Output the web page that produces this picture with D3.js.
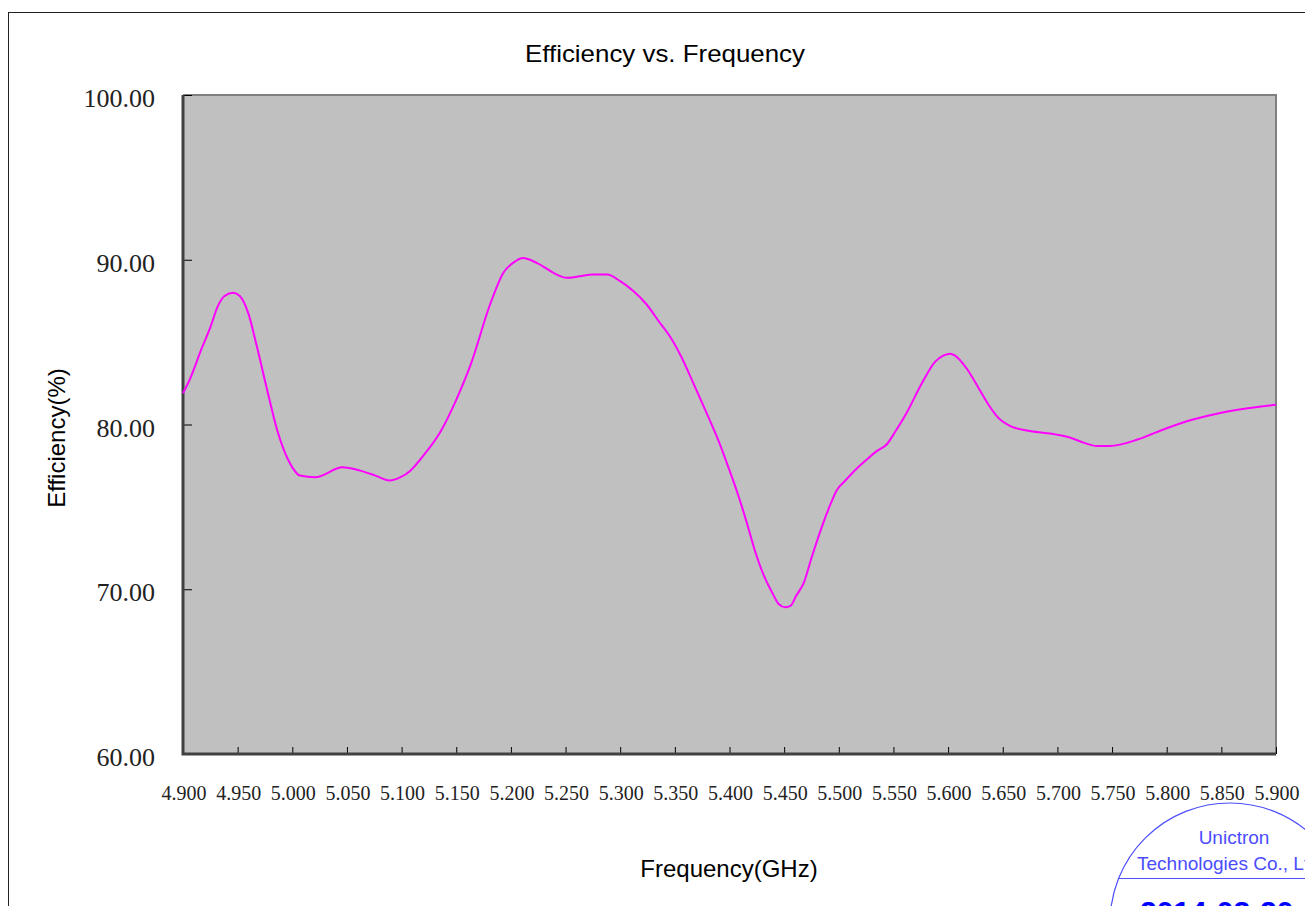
<!DOCTYPE html>
<html>
<head>
<meta charset="utf-8">
<script src="https://cdn.jsdelivr.net/npm/d3@7"></script>
<style>
  html, body { margin: 0; padding: 0; background: #fff; overflow: hidden; }
  svg { display: block; }
</style>
</head>
<body>
<svg id="chart" width="1305" height="906"></svg>
<script>
// Efficiency vs. Frequency
const freqs = [
  4.900, 4.906, 4.917, 4.925, 4.932, 4.938, 4.946, 4.952, 4.960, 4.967,
  4.977, 4.986, 4.992, 5.000, 5.007, 5.021, 5.046, 5.062, 5.076, 5.089,
  5.099, 5.108, 5.121, 5.135, 5.150, 5.163, 5.181, 5.193, 5.204, 5.211,
  5.224, 5.242, 5.251, 5.263, 5.275, 5.288, 5.300, 5.312, 5.324, 5.336,
  5.346, 5.356, 5.367, 5.379, 5.390, 5.399, 5.407, 5.416, 5.423, 5.431,
  5.439, 5.445, 5.451, 5.456, 5.461, 5.468, 5.475, 5.484, 5.492, 5.498,
  5.506, 5.516, 5.526, 5.535, 5.544, 5.551, 5.562, 5.576, 5.588, 5.596,
  5.602, 5.606, 5.617, 5.628, 5.637, 5.646, 5.657, 5.675, 5.698, 5.712,
  5.724, 5.736, 5.748, 5.774, 5.797, 5.824, 5.849, 5.876, 5.900
];
const efficiency = [
  81.9, 82.7, 84.6, 85.9, 87.2, 87.8, 88.0, 87.8, 86.7, 84.9,
  82.1, 79.7, 78.5, 77.4, 76.9, 76.8, 77.4, 77.2, 76.9, 76.6,
  76.8, 77.2, 78.2, 79.5, 81.5, 83.6, 87.3, 89.2, 89.9, 90.1,
  89.8, 89.1, 88.9, 89.0, 89.1, 89.1, 88.7, 88.1, 87.3, 86.2,
  85.3, 84.1, 82.5, 80.7, 79.0, 77.4, 75.9, 74.0, 72.4, 70.9,
  69.8, 69.1, 68.9, 69.0, 69.6, 70.4, 71.9, 73.7, 75.1, 76.0,
  76.6, 77.3, 77.9, 78.4, 78.8, 79.5, 80.7, 82.5, 83.8, 84.2,
  84.3, 84.2, 83.4, 82.2, 81.2, 80.4, 79.9, 79.6, 79.4, 79.2,
  78.9, 78.7, 78.7, 79.1, 79.7, 80.3, 80.7, 81.0, 81.2
];
const xTicks = [
  4.900, 4.950, 5.000, 5.050, 5.100, 5.150, 5.200, 5.250, 5.300, 5.350, 5.400,
  5.450, 5.500, 5.550, 5.600, 5.650, 5.700, 5.750, 5.800, 5.850, 5.900
];
const yTicks = [60, 70, 80, 90, 100];

const svg = d3.select('#chart');
const plot = { left: 183, top: 95, right: 1276, bottom: 754 };

const x = d3.scaleLinear().domain([4.9, 5.9]).range([plot.left, plot.right]);
const y = d3.scaleLinear().domain([60, 100]).range([plot.bottom, plot.top]);

// outer frame (runs off the page on the right/bottom)
svg.append('rect')
  .attr('x', 8.5).attr('y', 12.5).attr('width', 1400).attr('height', 1000)
  .attr('fill', 'none').attr('stroke', '#222').attr('stroke-width', 1);

// plot background
svg.append('rect')
  .attr('x', plot.left).attr('y', plot.top)
  .attr('width', plot.right - plot.left).attr('height', plot.bottom - plot.top)
  .attr('fill', '#c0c0c0');

// top / right edges gray
svg.append('path')
  .attr('d', `M${plot.left},${plot.top}H${plot.right}V${plot.bottom}`)
  .attr('fill', 'none').attr('stroke', '#808080').attr('stroke-width', 2);

// y axis (ticks inward)
const yAxis = svg.append('g')
  .attr('transform', `translate(${plot.left},0)`)
  .call(d3.axisRight(y).tickValues(yTicks).tickSize(9).tickFormat(''));
yAxis.select('.domain').remove();
yAxis.selectAll('line').attr('stroke', '#000');

// x axis (ticks inward / upward)
const xAxis = svg.append('g')
  .attr('transform', `translate(0,${plot.bottom})`)
  .call(d3.axisTop(x).tickValues(xTicks).tickSize(7).tickFormat(''));
xAxis.select('.domain').remove();
xAxis.selectAll('line').attr('stroke', '#000');

// left & bottom edges dark
svg.append('path')
  .attr('d', `M${plot.left},${plot.top}V${plot.bottom}H${plot.right}`)
  .attr('fill', 'none').attr('stroke', '#404040').attr('stroke-width', 3);

// tick labels
svg.append('g').selectAll('text').data(yTicks).join('text')
  .attr('x', 155).attr('y', d => y(d) + 12)
  .attr('text-anchor', 'end')
  .attr('font-family', '"Liberation Serif", "DejaVu Serif", serif')
  .attr('font-size', 26).attr('fill', '#222')
  .text(d => d.toFixed(2));

svg.append('g').selectAll('text').data(xTicks).join('text')
  .attr('x', d => x(d) + 1).attr('y', 800)
  .attr('text-anchor', 'middle')
  .attr('font-family', '"Liberation Serif", "DejaVu Serif", serif')
  .attr('font-size', 20).attr('fill', '#222')
  .text(d => d.toFixed(3));

// titles
svg.append('text')
  .attr('x', 665).attr('y', 62).attr('text-anchor', 'middle')
  .attr('font-family', '"Liberation Sans", Arial, sans-serif')
  .attr('font-size', 24).attr('textLength', 280).attr('lengthAdjust', 'spacingAndGlyphs')
  .attr('fill', '#000').text('Efficiency vs. Frequency');

svg.append('text')
  .attr('x', 729).attr('y', 877).attr('text-anchor', 'middle')
  .attr('font-family', '"Liberation Sans", Arial, sans-serif')
  .attr('font-size', 24).attr('fill', '#000').text('Frequency(GHz)');

svg.append('text')
  .attr('transform', 'translate(65,438) rotate(-90)')
  .attr('text-anchor', 'middle')
  .attr('font-family', '"Liberation Sans", Arial, sans-serif')
  .attr('font-size', 24).attr('fill', '#000').text('Efficiency(%)');

// data line
const line = d3.line()
  .x((d, i) => x(freqs[i]))
  .y(d => y(d))
  .curve(d3.curveMonotoneX);

svg.append('path')
  .datum(efficiency)
  .attr('d', line)
  .attr('fill', 'none')
  .attr('stroke', '#ff00ff')
  .attr('stroke-width', 2);

// company stamp in the corner (cut by the page edge, as in the original)
const stamp = svg.append('g');
stamp.append('circle')
  .attr('cx', 1230).attr('cy', 923).attr('r', 120)
  .attr('fill', 'none').attr('stroke', '#4c4cff').attr('stroke-width', 1.2);
stamp.append('line')
  .attr('x1', 1119).attr('x2', 1360).attr('y1', 878.5).attr('y2', 878.5)
  .attr('stroke', '#4c4cff').attr('stroke-width', 1.2);
stamp.append('text')
  .attr('x', 1234).attr('y', 844).attr('text-anchor', 'middle')
  .attr('font-family', '"Liberation Sans", Arial, sans-serif')
  .attr('font-size', 19).attr('fill', '#4c4cff').text('Unictron');
stamp.append('text')
  .attr('x', 1137).attr('y', 870)
  .attr('font-family', '"Liberation Sans", Arial, sans-serif')
  .attr('font-size', 19).attr('fill', '#4c4cff').text('Technologies Co., Ltd.');
stamp.append('text')
  .attr('x', 1140).attr('y', 922)
  .attr('font-family', '"Liberation Sans", Arial, sans-serif')
  .attr('font-size', 30).attr('font-weight', 'bold')
  .attr('fill', '#0000ff').text('2014-03-20');
</script>
</body>
</html>
